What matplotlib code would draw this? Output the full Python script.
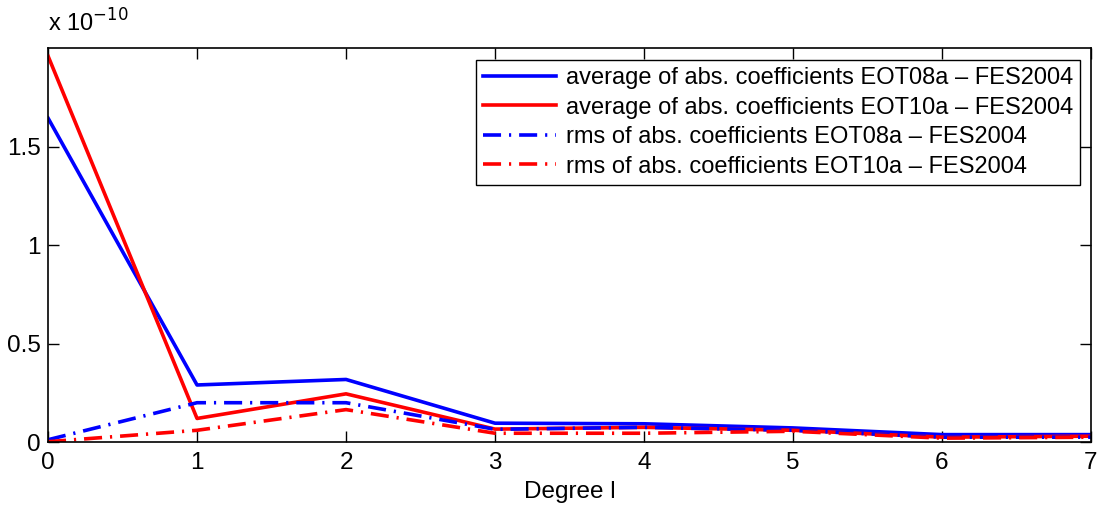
import matplotlib
matplotlib.use("Agg")
import matplotlib.pyplot as plt

plt.rcParams['font.family'] = ['Liberation Sans', 'DejaVu Sans']

# Spherical harmonic degree
degree = [0, 1, 2, 3, 4, 5, 6, 7]

# Values in units of 1e-10
avg_eot08a = [1.645, 0.29, 0.318, 0.096, 0.093, 0.072, 0.038, 0.038]
avg_eot10a = [1.96, 0.12, 0.245, 0.066, 0.075, 0.060, 0.025, 0.030]
rms_eot08a = [0.012, 0.20, 0.20, 0.065, 0.075, 0.060, 0.025, 0.025]
rms_eot10a = [0.002, 0.060, 0.165, 0.045, 0.045, 0.055, 0.020, 0.025]

labels = [
    "average of abs. coefficients EOT08a \u2013 FES2004",
    "average of abs. coefficients EOT10a \u2013 FES2004",
    "rms of abs. coefficients EOT08a \u2013 FES2004",
    "rms of abs. coefficients EOT10a \u2013 FES2004",
]

fig = plt.figure(figsize=(11.02, 5.07), dpi=100)
ax = fig.add_axes([0.0436, 0.128, 0.9464, 0.777])

dashdot = (0, (5, 2.2, 0.6, 2.2))
ax.plot(degree, avg_eot08a, color='#0000ff', lw=2.6, label=labels[0])
ax.plot(degree, avg_eot10a, color='#ff0000', lw=2.6, label=labels[1])
ax.plot(degree, rms_eot08a, color='#0000ff', lw=2.6, ls=dashdot, label=labels[2])
ax.plot(degree, rms_eot10a, color='#ff0000', lw=2.6, ls=dashdot, label=labels[3])

ax.set_xlim(0, 7)
ax.set_ylim(0, 2.0)
ax.set_xticks(degree)
ax.set_yticks([0, 0.5, 1, 1.5])
ax.set_yticklabels(["0", "0.5", "1", "1.5"])
ax.tick_params(direction='in', length=8, width=1, labelsize=17.5, top=True, right=True)
ax.tick_params(axis='x', pad=7)
ax.tick_params(axis='y', pad=5)
for s in ax.spines.values():
    s.set_linewidth(1.2)

ax.set_xlabel("Degree l", fontsize=17.5, labelpad=5)
ax.text(0.0, 1.03, r"x 10$^{-10}$", transform=ax.transAxes, fontsize=17, ha='left', va='bottom')

leg = ax.legend(loc='upper right', bbox_to_anchor=(0.9895, 0.97), fontsize=17,
                frameon=True, fancybox=False, edgecolor='black', framealpha=1,
                handlelength=3.1, handletextpad=0.4, labelspacing=0.32,
                borderpad=0.3, borderaxespad=0)
leg.get_frame().set_linewidth(1.0)

fig.savefig("out.png", dpi=100)
